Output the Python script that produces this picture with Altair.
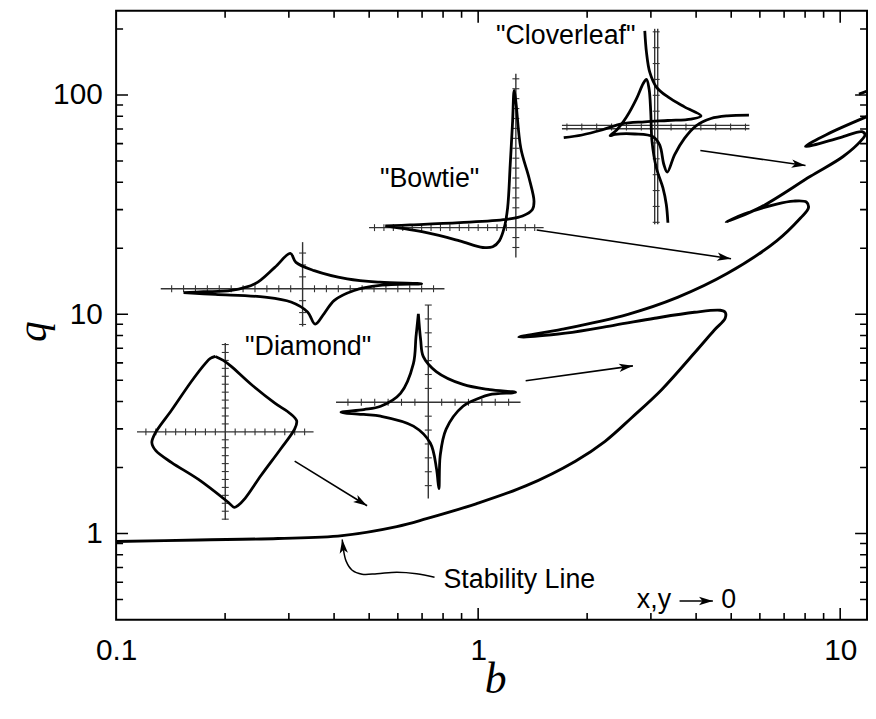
import math
import altair as alt
import pandas as pd

# ---------------- axes ----------------
B_DOMAIN = [0.1, 11.86]
Q_DOMAIN = [0.404, 242.0]
PLOT_W, PLOT_H = 757, 614

x_label_values = [0.1, 1, 10]
y_label_values = [1, 10, 100]
minor_b = [0.2, 0.3, 0.4, 0.5, 0.6, 0.7, 0.8, 0.9, 2, 3, 4, 5, 6, 7, 8, 9]
major_b = [1, 10]
minor_q = [0.5, 0.6, 0.7, 0.8, 0.9, 2, 3, 4, 5, 6, 7, 8, 9,
           20, 30, 40, 50, 60, 70, 80, 90, 200]
major_q = [1, 10, 100]

# ---------------- stability line (b, q) ----------------
stab_b = [0.100, 0.169, 0.280, 0.421, 0.596, 0.720, 0.987, 1.353, 1.856, 2.242,
          2.659, 3.212, 3.957, 4.487, 4.811, 4.811, 4.661, 3.957, 3.073, 2.388,
          1.742, 1.295, 1.710, 2.593, 3.553, 4.872, 6.678, 7.77, 8.17, 8.07,
          7.43, 6.678, 5.423, 4.842, 6.037, 8.277, 10.19, 11.42, 11.71, 11.49,
          10.0, 8.02, 9.155, 12.01]
stab_q = [0.920, 0.935, 0.949, 0.979, 1.076, 1.169, 1.367, 1.649, 2.139, 2.635,
          3.384, 4.530, 6.66, 8.46, 9.59, 10.21, 10.43, 10.21, 9.59, 8.92,
          8.20, 7.87, 8.55, 10.0, 11.94, 15.33, 21.62, 27.48, 30.5, 32.45,
          32.8, 31.8, 28.64, 26.35, 30.8, 42.56, 52.4, 61.9, 65.9, 68.0,
          63.9, 58.2, 65.9, 80.4]
frag_b = [11.27, 12.2]
frag_q = [101.0, 106.0]

# ---------------- inset trajectories (own x,y units) ----------------
INSET_DEC_X = 0.0274   # decades of b per inset unit
INSET_DEC_Y = 0.04525  # decades of q per inset unit

diamond_center = (0.2002, 2.909)
diamond_x = [-1.0, -0.2, 0.6, 2.6, 5.0, 6.6, 7.2, 7.0, 5.6, 3.6, 2.0, 1.3, 0.9, 0.3,
             -2.7, -5.4, -7.0, -7.4, -7.1, -5.4, -3.4, -2.0, -1.5, -1.0]
diamond_y = [7.6, 7.2, 6.6, 4.8, 2.9, 1.8, 1.1, 0.3, -1.7, -4.4, -6.7, -7.4, -7.6, -7.1,
             -4.8, -3.1, -1.9, -1.1, -0.2, 2.2, 5.1, 6.9, 7.4, 7.6]

star_center = (0.7282, 3.968)
star_x = [-1.0, -0.77, -0.5, 0.8, 3.5, 6.2, 8.8, 6.2, 5.1, 3.5, 1.8, 1.2, 1.07, 0.83,
          0.2, -1.5, -4.8, -6.5, -8.8, -6.5, -4.8, -2.8, -1.5, -1.24, -1.0]
star_y = [8.9, 6.3, 4.6, 3.1, 1.8, 1.27, 1.0, 0.77, 0.4, -0.4, -2.7, -5.4, -8.7, -6.7,
          -4.1, -2.4, -1.4, -1.23, -1.0, -0.73, -0.4, 0.9, 3.9, 6.6, 8.9]

flat_center = (0.3274, 13.07)
flat_x = [-12.0, -10.0, -7.2, -4.8, -2.8, -1.23, -0.67, 1.17, 4.5, 7.8, 12.0, 7.8, 5.2,
          3.2, 2.17, 1.27, 0.5, -1.17, -3.8, -8.8, -12.0]
flat_y = [-0.4, -0.3, -0.17, 0.5, 2.16, 3.56, 2.66, 1.83, 1.0, 0.66, 0.5, 0.33, -0.17,
          -1.17, -2.5, -3.57, -2.34, -1.34, -0.84, -0.57, -0.4]

bowtie_center = (1.271, 24.83)
bowtie_x = [-13.17, -9.0, -5.67, -3.33, -2.33, -1.67, -1.17, -0.83, -0.57, -0.33, -0.17,
            0.0, 0.5, 1.33, 1.83, 1.67, 0.67, -1.0, -5.67, -10.67, -13.17]
bowtie_y = [0.17, -0.5, -1.33, -2.0, -1.93, -1.33, 0.0, 2.0, 6.33, 10.67, 13.84,
            12.7, 8.0, 5.0, 2.67, 1.83, 1.17, 0.83, 0.5, 0.27, 0.17]

clover_center = (3.103, 71.4)
clover1_x = [-1.15, -0.98, -0.65, 0.02, 1.18, 2.85, 4.52, 3.52, 1.18, -1.15, -3.48,
             -5.48, -7.48, -9.32]
clover1_y = [9.7, 7.53, 5.53, 4.03, 3.03, 2.03, 1.13, 0.8, 0.66, 0.53, 0.33,
             -0.3, -0.8, -1.07]
clover2_x = [9.35, 7.18, 5.52, 4.02, 2.85, 1.85, 1.12, 0.78, 0.35, -0.32, -2.15, -4.15,
             -4.65, -3.98, -2.98, -1.98, -1.32, -0.98, -0.72, -0.55, -0.42, 0.02, 0.68,
             1.02, 1.18]
clover2_y = [1.2, 1.13, 0.86, 0.13, -1.14, -2.8, -4.54, -3.8, -1.8, -0.97, -0.7, -0.74,
             -0.87, -0.3, 1.03, 2.86, 4.36, 4.8, 3.86, 1.53, -1.47, -4.13, -6.13,
             -7.8, -9.64]

insets = [
    dict(name="diamond", center=diamond_center, curves=[(diamond_x, diamond_y)],
         axis=(-8.9, 8.9, -8.85, 8.95), tick=(1.0, 0.8), double=False),
    dict(name="star", center=star_center, curves=[(star_x, star_y)],
         axis=(-9.3, 9.3, -9.7, 9.8), tick=(1.35, 1.4), double=False),
    dict(name="flat", center=flat_center, curves=[(flat_x, flat_y)],
         axis=(-14.3, 14.3, -3.8, 4.7), tick=(1.2, 1.2), double=False),
    dict(name="bowtie", center=bowtie_center, curves=[(bowtie_x, bowtie_y)],
         axis=(-14.8, 2.8, -3.0, 15.5), tick=(0.95, 1.0), double=False),
    dict(name="clover", center=clover_center,
         curves=[(clover1_x, clover1_y), (clover2_x, clover2_y)],
         axis=(-9.5, 9.4, -9.8, 9.9), tick=(1.5, 1.6), double=True),
]

# ---------------- arrows ----------------
arrow_start_b = [0.3113, 1.353, 1.451, 4.109, 3.60]
arrow_start_q = [2.139, 4.975, 24.24, 55.8, 0.4923]
arrow_tip_b = [0.4934, 2.676, 4.995, 8.02, 4.45]
arrow_tip_q = [1.339, 5.817, 17.92, 47.7, 0.4923]
pointer_b = [0.7577, 0.6761, 0.5962, 0.5254, 0.4780, 0.4488, 0.4321, 0.4240, 0.4213]
pointer_q = [0.6324, 0.6559, 0.6663, 0.6559, 0.6524, 0.6803, 0.7468, 0.8553, 0.9394]

# ---------------- labels ----------------
label_text = ['"Cloverleaf"', '"Bowtie"', '"Diamond"', "Stability Line", "x,y", "0"]
label_b = [1.120, 0.5355, 0.2271, 0.802, 2.744, 4.69]
label_q = [170.2, 37.95, 6.524, 0.5638, 0.4576, 0.4576]

# =============== build tables ===============
def place(center, u, v):
    b0, q0 = center
    return b0 * 10 ** (u * INSET_DEC_X), q0 * 10 ** (v * INSET_DEC_Y)

curve_rows, axis_rows, htick_rows, vtick_rows = [], [], [], []
for ins in insets:
    c = ins["center"]
    for ci, (us, vs) in enumerate(ins["curves"]):
        for i, (u, v) in enumerate(zip(us, vs)):
            b, q = place(c, u, v)
            curve_rows.append(dict(g=f'{ins["name"]}{ci}', i=i, b=b, q=q))
    xlo, xhi, ylo, yhi = ins["axis"]
    offs = [-0.17, 0.17] if ins["double"] else [0.0]
    for k, o in enumerate(offs):
        for i, (u, v) in enumerate([(xlo, o), (xhi, o)]):
            b, q = place(c, u, v)
            axis_rows.append(dict(g=f'{ins["name"]}h{k}', i=i, b=b, q=q))
        for i, (u, v) in enumerate([(o * 0.9, ylo), (o * 0.9, yhi)]):
            b, q = place(c, u, v)
            axis_rows.append(dict(g=f'{ins["name"]}v{k}', i=i, b=b, q=q))
    sx, sy = ins["tick"]
    for k in range(-20, 21):
        if k != 0 and xlo < k * sx < xhi:
            b, q = place(c, k * sx, 0)
            htick_rows.append(dict(b=b, q=q))
        if k != 0 and ylo < k * sy < yhi:
            b, q = place(c, 0, k * sy)
            vtick_rows.append(dict(b=b, q=q))

main_rows = [dict(g="main", i=i, b=b, q=q) for i, (b, q) in enumerate(zip(stab_b, stab_q))]
main_rows += [dict(g="frag", i=i, b=b, q=q) for i, (b, q) in enumerate(zip(frag_b, frag_q))]

SPAN_X = PLOT_W / math.log10(B_DOMAIN[1] / B_DOMAIN[0])
SPAN_Y = PLOT_H / math.log10(Q_DOMAIN[1] / Q_DOMAIN[0])


def heading(b1, q1, b2, q2):
    dx = math.log10(b2 / b1) * SPAN_X
    dy = -math.log10(q2 / q1) * SPAN_Y
    return math.degrees(math.atan2(dy, dx)) % 360


arrow_rows, head_rows = [], []
for k in range(len(arrow_start_b)):
    arrow_rows.append(dict(g=f"a{k}", i=0, b=arrow_start_b[k], q=arrow_start_q[k]))
    arrow_rows.append(dict(g=f"a{k}", i=1, b=arrow_tip_b[k], q=arrow_tip_q[k]))
    head_rows.append(dict(b=arrow_tip_b[k], q=arrow_tip_q[k],
                          ang=heading(arrow_start_b[k], arrow_start_q[k],
                                      arrow_tip_b[k], arrow_tip_q[k])))
pointer_rows = [dict(g="p", i=i, b=b, q=q) for i, (b, q) in enumerate(zip(pointer_b, pointer_q))]
head_rows.append(dict(b=pointer_b[-1], q=pointer_q[-1],
                      ang=heading(pointer_b[-2], pointer_q[-2], pointer_b[-1], pointer_q[-1])))

label_rows = [dict(b=b, q=q, t=t) for b, q, t in zip(label_b, label_q, label_text)]

xt_rows = ([dict(b=b, q=Q_DOMAIN[0], len=14) for b in minor_b] +
           [dict(b=b, q=Q_DOMAIN[1], len=14) for b in minor_b] +
           [dict(b=b, q=Q_DOMAIN[0], len=24) for b in major_b] +
           [dict(b=b, q=Q_DOMAIN[1], len=24) for b in major_b])
yt_rows = ([dict(b=B_DOMAIN[0], q=q, len=14) for q in minor_q] +
           [dict(b=B_DOMAIN[1], q=q, len=14) for q in minor_q] +
           [dict(b=B_DOMAIN[0], q=q, len=24) for q in major_q] +
           [dict(b=B_DOMAIN[1], q=q, len=24) for q in major_q])

# =============== encodings ===============
x_axis = alt.Axis(values=x_label_values, format="~g", ticks=False, tickSize=0, domain=False,
                  grid=False, labelFont="Liberation Sans", labelFontSize=30,
                  labelColor="black", labelPadding=16, labelFlush=False, labelOverlap=False,
                  title="b", titleFont="Liberation Serif", titleFontStyle="italic",
                  titleFontWeight="normal", titleFontSize=44, titleColor="black",
                  titleX=382, titleY=73, titleBaseline="alphabetic", titleAlign="center")
y_axis = alt.Axis(values=y_label_values, format="~g", ticks=False, tickSize=0, domain=False,
                  grid=False, labelFont="Liberation Sans", labelFontSize=30,
                  labelColor="black", labelPadding=14, labelFlush=False, labelOverlap=False,
                  title="q", titleFont="Liberation Serif", titleFontStyle="italic",
                  titleFontWeight="normal", titleFontSize=42, titleColor="black",
                  titleAngle=270, titleX=-71, titleY=323, titleBaseline="alphabetic",
                  titleAlign="center")


def X():
    return alt.X("b:Q", scale=alt.Scale(type="log", domain=B_DOMAIN, nice=False), axis=x_axis)


def Y():
    return alt.Y("q:Q", scale=alt.Scale(type="log", domain=Q_DOMAIN, nice=False), axis=y_axis)


def lines(rows, **kw):
    return alt.Chart(pd.DataFrame(rows)).mark_line(**kw).encode(
        x=X(), y=Y(), detail="g:N", order="i:Q")


inset_axes = lines(axis_rows, color="#333333", strokeWidth=1.4)
inset_hticks = alt.Chart(pd.DataFrame(htick_rows)).mark_point(
    shape="M0,-1L0,1", size=49, filled=False, color="#333333", strokeWidth=1.1, opacity=1
).encode(x=X(), y=Y())
inset_vticks = alt.Chart(pd.DataFrame(vtick_rows)).mark_point(
    shape="M-1,0L1,0", size=49, filled=False, color="#333333", strokeWidth=1.1, opacity=1
).encode(x=X(), y=Y())
inset_curves = lines(curve_rows, color="black", strokeWidth=2.8, interpolate="catmull-rom",
                     strokeJoin="round")
main_curve = lines(main_rows, color="black", strokeWidth=2.9, interpolate="catmull-rom",
                   clip=True, strokeJoin="round")
arrow_lines = lines(arrow_rows, color="black", strokeWidth=1.6)
pointer_line = lines(pointer_rows, color="black", strokeWidth=1.5, interpolate="catmull-rom")
heads = alt.Chart(pd.DataFrame(head_rows)).mark_point(
    shape="M0,0L-2,-0.6L-1.5,0L-2,0.6Z", size=196, filled=True, color="black", opacity=1
).encode(x=X(), y=Y(), angle=alt.Angle("ang:Q", scale=None))
labels = alt.Chart(pd.DataFrame(label_rows)).mark_text(
    align="left", baseline="alphabetic", font="Liberation Sans", fontSize=27, color="black"
).encode(x=X(), y=Y(), text="t:N")
frame_xticks = alt.Chart(pd.DataFrame(xt_rows)).mark_tick(
    orient="vertical", thickness=1.6, color="black", opacity=1, clip=True
).encode(x=X(), y=Y(), size=alt.Size("len:Q", scale=None))
frame_yticks = alt.Chart(pd.DataFrame(yt_rows)).mark_tick(
    orient="horizontal", thickness=1.6, color="black", opacity=1, clip=True
).encode(x=X(), y=Y(), size=alt.Size("len:Q", scale=None))

chart = alt.layer(
    inset_axes, inset_hticks, inset_vticks, inset_curves, main_curve,
    arrow_lines, pointer_line, heads, labels, frame_xticks, frame_yticks
).properties(
    width=PLOT_W, height=PLOT_H,
    padding={"left": 109, "top": 0, "right": 1, "bottom": 83},
    autosize=alt.AutoSizeParams(type="none"),
    background="white",
).configure_view(stroke="black", strokeWidth=2)

chart.save("out.html", embed_options={"renderer": "svg", "actions": False})
